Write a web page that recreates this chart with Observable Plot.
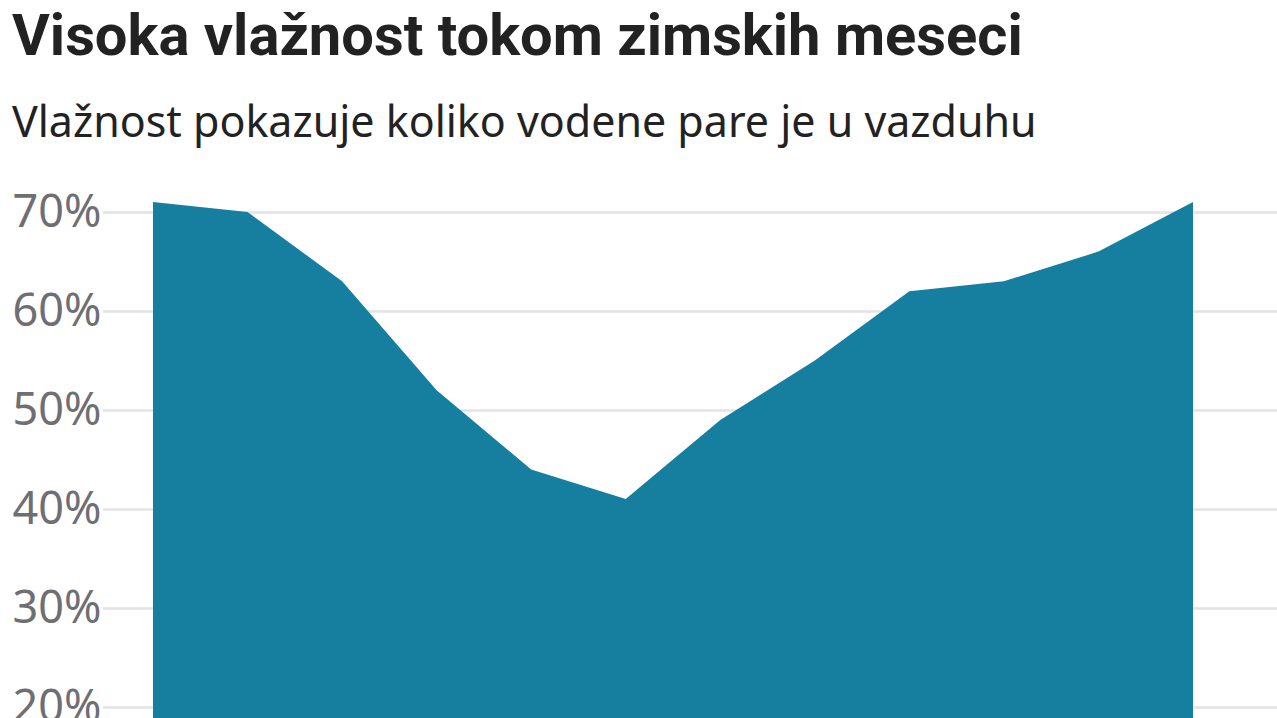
<!DOCTYPE html>
<html>
<head>
<meta charset="utf-8">
<script src="https://cdn.jsdelivr.net/npm/d3@7"></script>
<script src="https://cdn.jsdelivr.net/npm/@observablehq/plot@0.6"></script>
<style>
  html, body { margin: 0; padding: 0; background: #fff; overflow: hidden; }
  body { width: 1277px; height: 718px; position: relative; font-family: "Noto Sans", sans-serif; }
  #header { position: absolute; left: 0; top: 0; }
  #chart { position: absolute; left: 0; top: 160px; }
</style>
</head>
<body>
<svg id="header" width="1277" height="160"></svg>
<div id="chart"></div>
<script>
const titleText = "Visoka vlažnost tokom zimskih meseci";
const subtitleText = "Vlažnost pokazuje koliko vodene pare je u vazduhu";
const months = [1, 2, 3, 4, 5, 6, 7, 8, 9, 10, 11, 12];
const humidity = [71, 70, 63, 52, 44, 41, 49, 55, 62, 63, 66, 71];
const yTicks = [0, 10, 20, 30, 40, 50, 60, 70];

// header text fitted to the reference widths
const header = d3.select("#header");
function fitText(text, family, weight, targetWidth, baseline, color) {
  const t = header.append("text")
    .attr("x", 12).attr("y", baseline)
    .attr("fill", color)
    .style("font-family", family)
    .style("font-weight", weight)
    .style("font-size", "50px")
    .text(text);
  const w = t.node().getComputedTextLength();
  t.style("font-size", (50 * targetWidth / w) + "px");
  return t;
}
fitText(titleText, "Roboto, 'Noto Sans', sans-serif", 700, 1011, 55, "#222222");
fitText(subtitleText, "'Noto Sans', sans-serif", 400, 1025, 137, "#222222");

const data = months.map((m, i) => ({month: m, value: humidity[i]}));

const chart = Plot.plot({
  width: 1277,
  height: 785,
  marginTop: 52,
  marginBottom: 40,
  marginLeft: 153,
  marginRight: 84,
  style: {fontFamily: "Noto Sans, sans-serif", background: "#fff"},
  x: {domain: [1, 12], axis: null},
  y: {domain: [0, 70], axis: null},
  marks: [
    Plot.ruleY(yTicks, {y: d => d, stroke: "#e3e3e3", strokeWidth: 2.5, insetLeft: -50, insetRight: -84}),
    Plot.areaY(data, {x: "month", y: "value", fill: "#167f9f", curve: "linear"}),
    Plot.text(yTicks, {
      y: d => d,
      frameAnchor: "left",
      dx: -141,
      text: d => d + "%",
      textAnchor: "start",
      fill: "#6e6e73",
      fontSize: 45,
      lineAnchor: "middle"
    })
  ]
});
document.getElementById("chart").appendChild(chart);
</script>
</body>
</html>
